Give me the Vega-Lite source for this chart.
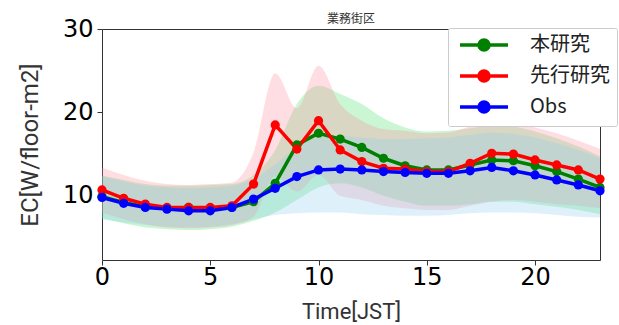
{
  "$schema": "https://vega.github.io/schema/vega-lite/v6.json",
  "width": 498,
  "height": 231,
  "autosize": {"type": "none"},
  "padding": {"left": 102, "top": 29, "right": 19, "bottom": 65},
  "background": "white",
  "config": {
    "view": {"stroke": "#333", "strokeWidth": 1},
    "font": "Roboto"
  },
  "title": {
    "text": "業務街区",
    "font": "Noto Sans CJK JP",
    "fontSize": 12,
    "fontWeight": "normal",
    "color": "#333",
    "anchor": "middle",
    "offset": -9
  },
  "data": {
    "values": [
      {"hour": 0, "series": "本研究", "mean": 9.9, "lo": 7.3, "hi": 12.4},
      {"hour": 1, "series": "本研究", "mean": 9.2, "lo": 6.7, "hi": 11.9},
      {"hour": 2, "series": "本研究", "mean": 8.7, "lo": 6.2, "hi": 11.4},
      {"hour": 3, "series": "本研究", "mean": 8.5, "lo": 6.0, "hi": 11.2},
      {"hour": 4, "series": "本研究", "mean": 8.6, "lo": 5.9, "hi": 11.2},
      {"hour": 5, "series": "本研究", "mean": 8.5, "lo": 6.0, "hi": 11.3},
      {"hour": 6, "series": "本研究", "mean": 8.6, "lo": 6.3, "hi": 11.4},
      {"hour": 7, "series": "本研究", "mean": 9.3, "lo": 7.0, "hi": 12.5},
      {"hour": 8, "series": "本研究", "mean": 11.5, "lo": 8.0, "hi": 15.5},
      {"hour": 9, "series": "本研究", "mean": 16.1, "lo": 9.5, "hi": 21.0},
      {"hour": 10, "series": "本研究", "mean": 17.5, "lo": 11.0, "hi": 23.2},
      {"hour": 11, "series": "本研究", "mean": 16.8, "lo": 11.5, "hi": 22.2},
      {"hour": 12, "series": "本研究", "mean": 15.8, "lo": 11.0, "hi": 21.0},
      {"hour": 13, "series": "本研究", "mean": 14.5, "lo": 10.0, "hi": 19.3},
      {"hour": 14, "series": "本研究", "mean": 13.6, "lo": 9.3, "hi": 18.2},
      {"hour": 15, "series": "本研究", "mean": 13.1, "lo": 8.8, "hi": 17.7},
      {"hour": 16, "series": "本研究", "mean": 13.1, "lo": 8.8, "hi": 17.8},
      {"hour": 17, "series": "本研究", "mean": 13.7, "lo": 9.0, "hi": 18.1},
      {"hour": 18, "series": "本研究", "mean": 14.3, "lo": 9.3, "hi": 18.5},
      {"hour": 19, "series": "本研究", "mean": 14.2, "lo": 9.3, "hi": 18.3},
      {"hour": 20, "series": "本研究", "mean": 13.6, "lo": 9.0, "hi": 17.7},
      {"hour": 21, "series": "本研究", "mean": 12.9, "lo": 8.7, "hi": 16.9},
      {"hour": 22, "series": "本研究", "mean": 12.0, "lo": 8.3, "hi": 15.9},
      {"hour": 23, "series": "本研究", "mean": 11.0, "lo": 7.8, "hi": 14.7},
      {"hour": 0, "series": "先行研究", "mean": 10.7, "lo": 8.0, "hi": 13.4},
      {"hour": 1, "series": "先行研究", "mean": 9.7, "lo": 7.2, "hi": 12.5},
      {"hour": 2, "series": "先行研究", "mean": 9.0, "lo": 6.6, "hi": 11.8},
      {"hour": 3, "series": "先行研究", "mean": 8.6, "lo": 6.2, "hi": 11.4},
      {"hour": 4, "series": "先行研究", "mean": 8.6, "lo": 6.1, "hi": 11.3},
      {"hour": 5, "series": "先行研究", "mean": 8.6, "lo": 6.2, "hi": 11.4},
      {"hour": 6, "series": "先行研究", "mean": 8.8, "lo": 6.5, "hi": 11.6},
      {"hour": 7, "series": "先行研究", "mean": 11.4, "lo": 7.5, "hi": 15.2},
      {"hour": 8, "series": "先行研究", "mean": 18.5, "lo": 12.3, "hi": 24.7},
      {"hour": 9, "series": "先行研究", "mean": 15.6, "lo": 10.5, "hi": 20.5},
      {"hour": 10, "series": "先行研究", "mean": 19.0, "lo": 12.5, "hi": 25.6},
      {"hour": 11, "series": "先行研究", "mean": 15.5, "lo": 10.0, "hi": 21.0},
      {"hour": 12, "series": "先行研究", "mean": 14.1, "lo": 9.5, "hi": 19.0},
      {"hour": 13, "series": "先行研究", "mean": 13.3, "lo": 8.8, "hi": 18.0},
      {"hour": 14, "series": "先行研究", "mean": 13.2, "lo": 8.5, "hi": 17.8},
      {"hour": 15, "series": "先行研究", "mean": 12.9, "lo": 8.3, "hi": 17.5},
      {"hour": 16, "series": "先行研究", "mean": 12.9, "lo": 8.3, "hi": 17.6},
      {"hour": 17, "series": "先行研究", "mean": 13.9, "lo": 8.8, "hi": 18.3},
      {"hour": 18, "series": "先行研究", "mean": 15.1, "lo": 9.3, "hi": 18.8},
      {"hour": 19, "series": "先行研究", "mean": 15.0, "lo": 9.5, "hi": 18.7},
      {"hour": 20, "series": "先行研究", "mean": 14.3, "lo": 9.3, "hi": 18.2},
      {"hour": 21, "series": "先行研究", "mean": 13.7, "lo": 9.0, "hi": 17.5},
      {"hour": 22, "series": "先行研究", "mean": 13.1, "lo": 8.8, "hi": 16.6},
      {"hour": 23, "series": "先行研究", "mean": 12.0, "lo": 8.5, "hi": 15.6},
      {"hour": 0, "series": "Obs", "mean": 9.8, "lo": 7.2, "hi": 12.4},
      {"hour": 1, "series": "Obs", "mean": 9.1, "lo": 6.8, "hi": 11.7},
      {"hour": 2, "series": "Obs", "mean": 8.6, "lo": 6.5, "hi": 11.2},
      {"hour": 3, "series": "Obs", "mean": 8.4, "lo": 6.3, "hi": 11.0},
      {"hour": 4, "series": "Obs", "mean": 8.2, "lo": 6.2, "hi": 10.9},
      {"hour": 5, "series": "Obs", "mean": 8.2, "lo": 6.3, "hi": 11.0},
      {"hour": 6, "series": "Obs", "mean": 8.6, "lo": 6.6, "hi": 11.2},
      {"hour": 7, "series": "Obs", "mean": 9.6, "lo": 7.2, "hi": 12.0},
      {"hour": 8, "series": "Obs", "mean": 10.9, "lo": 7.7, "hi": 13.8},
      {"hour": 9, "series": "Obs", "mean": 12.3, "lo": 7.9, "hi": 15.8},
      {"hour": 10, "series": "Obs", "mean": 13.1, "lo": 8.0, "hi": 17.0},
      {"hour": 11, "series": "Obs", "mean": 13.2, "lo": 8.0, "hi": 17.2},
      {"hour": 12, "series": "Obs", "mean": 13.1, "lo": 7.8, "hi": 17.0},
      {"hour": 13, "series": "Obs", "mean": 12.9, "lo": 7.7, "hi": 16.8},
      {"hour": 14, "series": "Obs", "mean": 12.8, "lo": 7.6, "hi": 16.8},
      {"hour": 15, "series": "Obs", "mean": 12.7, "lo": 7.6, "hi": 16.9},
      {"hour": 16, "series": "Obs", "mean": 12.7, "lo": 7.7, "hi": 17.0},
      {"hour": 17, "series": "Obs", "mean": 13.0, "lo": 7.9, "hi": 17.3},
      {"hour": 18, "series": "Obs", "mean": 13.4, "lo": 8.0, "hi": 17.6},
      {"hour": 19, "series": "Obs", "mean": 13.0, "lo": 8.0, "hi": 17.4},
      {"hour": 20, "series": "Obs", "mean": 12.5, "lo": 7.9, "hi": 17.0},
      {"hour": 21, "series": "Obs", "mean": 11.9, "lo": 7.7, "hi": 16.3},
      {"hour": 22, "series": "Obs", "mean": 11.3, "lo": 7.5, "hi": 15.5},
      {"hour": 23, "series": "Obs", "mean": 10.6, "lo": 7.4, "hi": 14.5}
    ]
  },
  "encoding": {
    "x": {
      "field": "hour",
      "type": "quantitative",
      "scale": {"domain": [0, 23], "nice": false, "zero": false},
      "axis": {
        "title": "Time[JST]",
        "values": [0, 5, 10, 15, 20],
        "grid": false,
        "domain": false,
        "tickSize": 5,
        "tickColor": "#333",
        "labelFont": "DejaVu Sans",
        "labelFontSize": 24,
        "labelColor": "black",
        "labelPadding": 0,
        "labelFlush": false,
        "titleFont": "Roboto",
        "titleFontSize": 22,
        "titleFontWeight": "normal",
        "titleColor": "#333",
        "titlePadding": 12
      }
    }
  },
  "layer": [
    {
      "mark": {"type": "area", "interpolate": "monotone", "opacity": 0.28},
      "encoding": {
        "y": {
          "field": "lo",
          "type": "quantitative",
          "scale": {"domain": [2.3, 30], "nice": false, "zero": false},
          "axis": {
            "title": "EC[W/floor-m2]",
            "values": [10, 20, 30],
            "grid": false,
            "domain": false,
            "tickSize": 5,
            "tickColor": "#333",
            "labelFont": "DejaVu Sans",
            "labelFontSize": 24,
            "labelColor": "black",
            "labelPadding": 4,
            "titleFont": "Roboto",
            "titleFontSize": 24,
            "titleFontWeight": "normal",
            "titleColor": "#333",
            "titlePadding": 20
          }
        },
        "y2": {"field": "hi"},
        "color": {
          "field": "series",
          "type": "nominal",
          "scale": {"domain": ["本研究", "先行研究", "Obs"], "range": ["#44dd66", "#ff8899", "#88ccee"]},
          "legend": null
        }
      }
    },
    {
      "mark": {"type": "line", "strokeWidth": 3.5, "point": {"filled": true, "size": 85}},
      "encoding": {
        "y": {"field": "mean", "type": "quantitative"},
        "color": {
          "field": "series",
          "type": "nominal",
          "sort": ["本研究", "先行研究", "Obs"],
          "scale": {"domain": ["本研究", "先行研究", "Obs"], "range": ["#008000", "#ff0000", "#0000ff"]},
          "legend": {
            "title": null,
            "orient": "none",
            "legendX": 346,
            "legendY": -1,
            "fillColor": "white",
            "strokeColor": "#cccccc",
            "cornerRadius": 2,
            "padding": 7,
            "symbolType": "M-1,0H8.6M4.8,0A1,1 0 1,1 2.8,0A1,1 0 1,1 4.8,0Z",
            "symbolSize": 100,
            "symbolStrokeWidth": 3.5,
            "labelOffset": 55,
            "labelFont": "Noto Sans CJK JP",
            "labelFontSize": 20,
            "labelColor": "#222",
            "rowPadding": 7
          }
        }
      }
    }
  ],
  "resolve": {"scale": {"color": "independent"}, "legend": {"color": "independent"}}
}
